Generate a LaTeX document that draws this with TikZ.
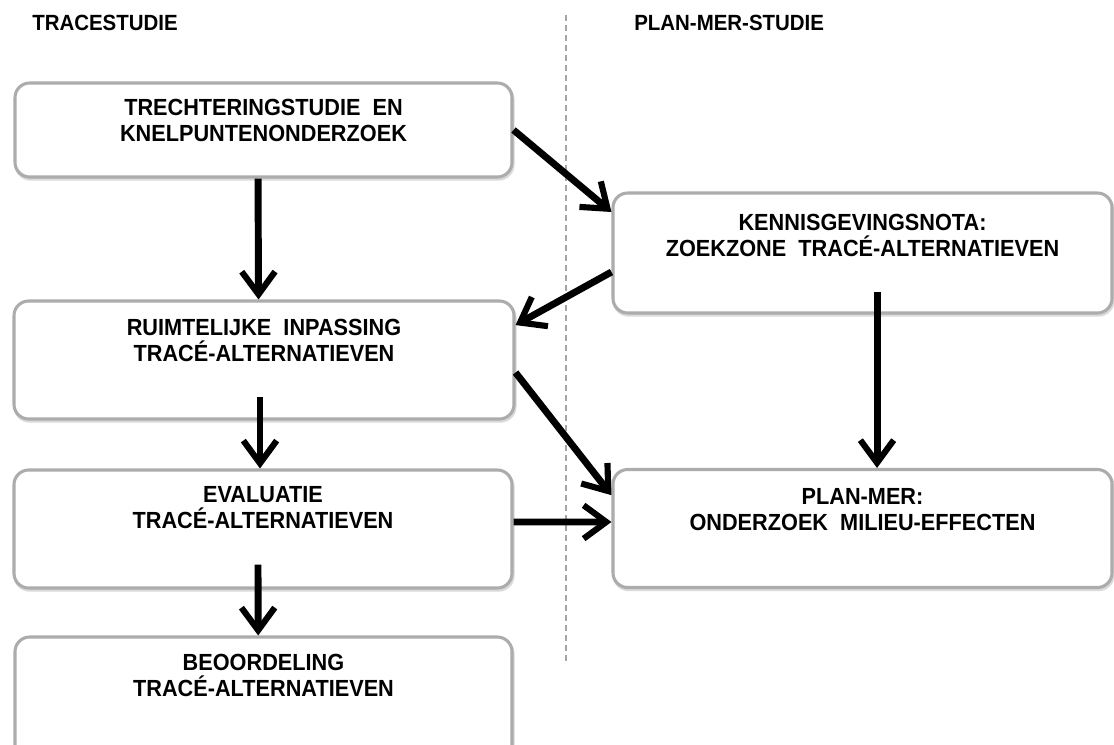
\documentclass[tikz,border=0pt]{standalone}
\usepackage{fontspec}
\setmainfont[FakeStretch=0.93]{Liberation Sans}
\usetikzlibrary{arrows.meta,calc}
\definecolor{boxgray}{RGB}{172,172,172}
\definecolor{shadegray}{RGB}{218,218,218}
\definecolor{dashgray}{RGB}{165,165,165}
\begin{document}
\begin{tikzpicture}[x=0.75pt,y=-0.75pt,
  box/.style={draw=boxgray, fill=white, line width=2.3pt, rounded corners=11pt, inner sep=0pt,
    preaction={draw=shadegray, line width=2.3pt, transform canvas={shift={(0.8pt,-1.6pt)}}}},
  txt/.style={font=\bfseries\fontsize{17.5}{19.6}\selectfont, align=center, inner sep=0pt, anchor=north},
  ttl/.style={font=\bfseries\fontsize{16.5}{19}\selectfont, inner sep=0pt, anchor=west},
  arr/.style={line width=5.2pt, -{Straight Barb[length=17pt,width=25pt,line width=4.6pt]}}]
\fill[white] (0,0) rectangle (1114,744);
\useasboundingbox (0,0) rectangle (1114,744);

% titles
\node[ttl] (h1) at (32,23) {TRACESTUDIE};
\node[ttl] (h2) at (634,23) {PLAN-MER-STUDIE};

% separator
\draw[dashgray, line width=1.1pt, dash pattern=on 4.5pt off 3pt] (566,15) -- (566,665);

% boxes
\node[box, minimum width=372.75pt, minimum height=70.5pt] (b1) at (263.5,130) {};
\node[box, minimum width=374.25pt, minimum height=90pt] (kn) at (862.5,253) {};
\node[box, minimum width=375pt, minimum height=88.5pt] (b2) at (264,360) {};
\node[box, minimum width=373.5pt, minimum height=88.5pt] (b3) at (263,529) {};
\node[box, minimum width=374.25pt, minimum height=88.5pt] (pm) at (862.5,528.5) {};
\node[box, minimum width=372.75pt, minimum height=99.75pt] (b4) at (263.5,703.5) {};

% texts
\node[txt] (t1) at (263.5,98.5) {TRECHTERINGSTUDIE\ \ EN\\KNELPUNTENONDERZOEK};
\node[txt] (tk) at (862.5,213.5) {KENNISGEVINGSNOTA:\\ZOEKZONE\ \ TRACÉ-ALTERNATIEVEN};
\node[txt] (t2) at (264,318.5) {RUIMTELIJKE\ \ INPASSING\\TRACÉ-ALTERNATIEVEN};
\node[txt] (t3) at (263,486.5) {EVALUATIE\\TRACÉ-ALTERNATIEVEN};
\node[txt] (tp) at (862.5,488.5) {PLAN-MER:\\ONDERZOEK\ \ MILIEU-EFFECTEN};
\node[txt] (t4) at (263.5,653.5) {BEOORDELING\\TRACÉ-ALTERNATIEVEN};

% arrows
\draw[arr] ([xshift=-4.1pt]b1.south) -- ([xshift=-4.1pt]b2.north);
\draw[arr] (b1.east) -- ([yshift=30.75pt]kn.west);
\draw[arr] ([yshift=-14.25pt]kn.west) -- ([yshift=26.2pt]b2.east);
\draw[arr] ([xshift=-3pt,yshift=17.5pt]b2.south) -- ([xshift=-2.25pt]b3.north);
\draw[arr] ([xshift=-3.75pt,yshift=18.75pt]b3.south) -- ([xshift=-4pt]b4.north);
\draw[arr] ([yshift=-9.4pt]b2.east) -- ([yshift=25pt]pm.west);
\draw[arr] ([yshift=5.25pt]b3.east) -- ([yshift=4.9pt]pm.west);
\draw[arr] ([xshift=10.9pt,yshift=17.25pt]kn.south) -- ([xshift=10.9pt]pm.north);
\end{tikzpicture}
\end{document}
